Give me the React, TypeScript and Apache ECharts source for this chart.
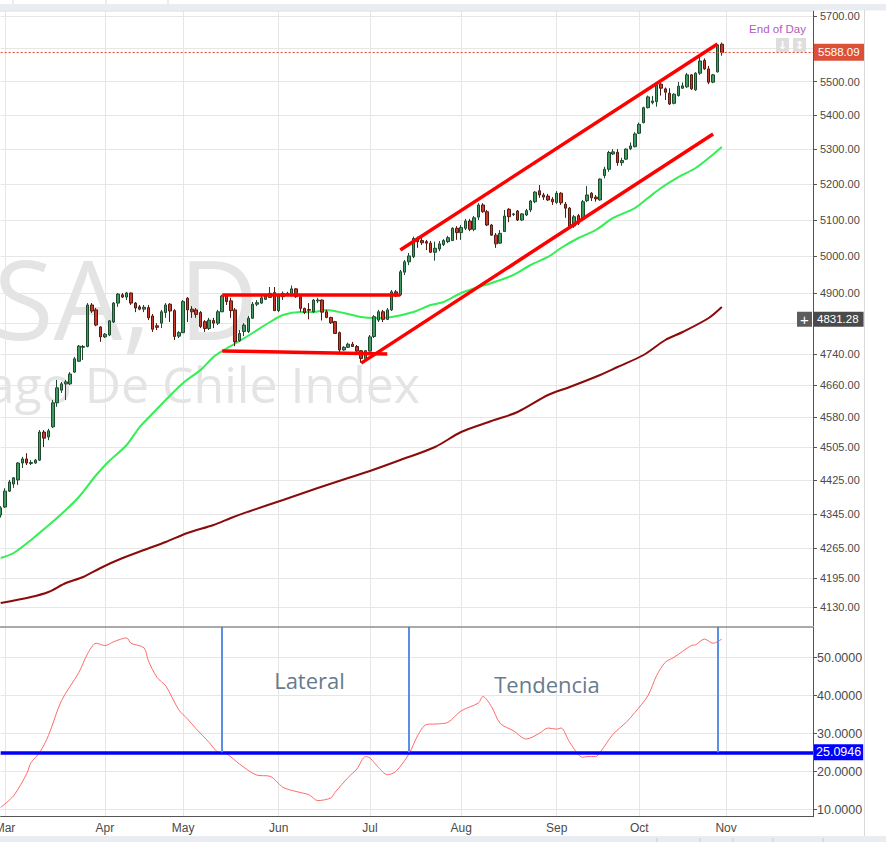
import React, { useEffect, useRef } from 'react';
import * as echarts from 'echarts';

// ---- calendar (Santiago exchange trading days, 2017) ----
const firstDay = '2017-02-28';
const dayCount = 188;
const holidays = ['2017-04-13', '2017-04-14', '2017-05-01', '2017-06-26', '2017-08-15', '2017-09-18', '2017-09-19', '2017-10-09', '2017-10-27', '2017-11-01'];
const monthNames = ['Jan', 'Feb', 'Mar', 'Apr', 'May', 'Jun', 'Jul', 'Aug', 'Sep', 'Oct', 'Nov', 'Dec'];

// ---- daily candles (index 0 = 2017-02-28) ----
const openP = [
  4342, 4361, 4399, 4416, 4426, 4467, 4477, 4466, 4467, 4474,
  4543, 4531, 4556, 4616, 4648, 4664, 4664, 4694, 4722, 4758,
  4760, 4869, 4856, 4811, 4785, 4790, 4824, 4874, 4896, 4890,
  4901, 4874, 4864, 4858, 4862, 4840, 4814, 4821, 4849, 4871,
  4854, 4787, 4796, 4887, 4858, 4856, 4849, 4825, 4807, 4828,
  4821, 4851, 4893, 4880, 4856, 4775, 4799, 4799, 4834, 4871,
  4874, 4884, 4889, 4902, 4854, 4891, 4900, 4896, 4912, 4891,
  4860, 4857, 4851, 4880, 4882, 4851, 4836, 4825, 4796, 4751,
  4758, 4766, 4760, 4749, 4729, 4748, 4786, 4829, 4851, 4831,
  4856, 4904, 4896, 4957, 4985, 4999, 5049, 5043, 5040, 5036,
  5011, 5020, 5032, 5040, 5043, 5077, 5065, 5077, 5097, 5074,
  5108, 5142, 5123, 5086, 5058, 5036, 5068, 5130, 5115, 5125,
  5100, 5114, 5128, 5151, 5182, 5170, 5167, 5158, 5149, 5175,
  5144, 5133, 5083, 5112, 5102, 5154, 5175, 5164, 5156, 5225,
  5243, 5287, 5292, 5262, 5272, 5302, 5308, 5347, 5378, 5422,
  5437, 5440, 5492, 5478, 5465, 5435, 5458, 5480, 5484, 5520,
  5475, 5525, 5564, 5538, 5498, 5529, 5613,
];
const closeP = [
  4359, 4399, 4421, 4431, 4467, 4477, 4467, 4468, 4474, 4543,
  4528, 4546, 4616, 4654, 4664, 4669, 4689, 4728, 4761, 4760,
  4869, 4853, 4816, 4785, 4792, 4827, 4874, 4898, 4890, 4901,
  4874, 4861, 4858, 4863, 4835, 4805, 4810, 4851, 4869, 4853,
  4786, 4796, 4878, 4856, 4851, 4844, 4812, 4807, 4829, 4821,
  4851, 4893, 4878, 4854, 4772, 4794, 4816, 4834, 4871, 4875,
  4888, 4893, 4900, 4854, 4893, 4900, 4896, 4912, 4891, 4860,
  4849, 4855, 4882, 4882, 4850, 4836, 4822, 4794, 4751, 4758,
  4766, 4760, 4748, 4729, 4749, 4785, 4838, 4851, 4831, 4856,
  4904, 4893, 4958, 4985, 5001, 5049, 5040, 5037, 5036, 5011,
  5022, 5034, 5043, 5051, 5077, 5065, 5079, 5097, 5074, 5106,
  5142, 5123, 5086, 5058, 5034, 5063, 5111, 5109, 5117, 5100,
  5117, 5126, 5153, 5178, 5170, 5164, 5156, 5151, 5175, 5148,
  5133, 5080, 5109, 5091, 5151, 5170, 5162, 5159, 5215, 5243,
  5291, 5293, 5262, 5268, 5301, 5310, 5345, 5373, 5422, 5454,
  5442, 5490, 5480, 5468, 5433, 5462, 5486, 5487, 5520, 5478,
  5525, 5562, 5538, 5498, 5520, 5611, 5588.09,
];
const lowP = [
  4336, 4359, 4397, 4407, 4414, 4455, 4462, 4462, 4465, 4472,
  4506, 4523, 4553, 4606, 4641, 4623, 4661, 4692, 4720, 4725,
  4758, 4848, 4813, 4772, 4782, 4787, 4821, 4864, 4888, 4882,
  4869, 4850, 4855, 4850, 4829, 4798, 4803, 4808, 4835, 4824,
  4777, 4782, 4795, 4824, 4835, 4835, 4808, 4798, 4803, 4808,
  4816, 4850, 4869, 4835, 4761, 4772, 4787, 4795, 4832, 4866,
  4872, 4882, 4888, 4853, 4850, 4882, 4893, 4891, 4888, 4851,
  4845, 4831, 4848, 4874, 4828, 4834, 4819, 4793, 4742, 4749,
  4756, 4759, 4745, 4718, 4725, 4747, 4782, 4824, 4824, 4829,
  4853, 4890, 4893, 4949, 4976, 4995, 5023, 5031, 5017, 5009,
  4988, 5014, 5028, 5036, 5042, 5045, 5045, 5072, 5069, 5069,
  5100, 5120, 5083, 5056, 5023, 5034, 5067, 5094, 5111, 5097,
  5097, 5111, 5122, 5147, 5162, 5156, 5153, 5142, 5145, 5142,
  5106, 5078, 5078, 5086, 5097, 5150, 5153, 5151, 5154, 5217,
  5236, 5284, 5253, 5253, 5270, 5298, 5306, 5345, 5376, 5420,
  5432, 5425, 5458, 5445, 5430, 5432, 5455, 5478, 5481, 5475,
  5472, 5520, 5535, 5492, 5495, 5527, 5578,
];
const highP = [
  4363, 4406, 4426, 4433, 4469, 4482, 4491, 4474, 4477, 4548,
  4548, 4551, 4623, 4674, 4669, 4674, 4694, 4733, 4764, 4764,
  4874, 4874, 4861, 4813, 4795, 4829, 4877, 4901, 4901, 4904,
  4902, 4877, 4869, 4869, 4869, 4845, 4821, 4856, 4874, 4874,
  4858, 4800, 4882, 4890, 4866, 4861, 4853, 4829, 4835, 4835,
  4856, 4896, 4896, 4888, 4861, 4803, 4821, 4840, 4877, 4882,
  4896, 4898, 4917, 4917, 4896, 4905, 4904, 4921, 4914, 4893,
  4862, 4874, 4885, 4888, 4884, 4856, 4838, 4827, 4799, 4761,
  4770, 4772, 4764, 4751, 4751, 4790, 4842, 4856, 4856, 4861,
  4909, 4909, 4963, 4990, 5009, 5054, 5054, 5050, 5045, 5042,
  5040, 5042, 5047, 5056, 5080, 5083, 5086, 5103, 5103, 5111,
  5147, 5147, 5128, 5089, 5064, 5072, 5128, 5133, 5119, 5128,
  5119, 5131, 5156, 5181, 5198, 5176, 5173, 5164, 5181, 5178,
  5150, 5136, 5114, 5117, 5156, 5195, 5178, 5170, 5217, 5250,
  5296, 5301, 5301, 5276, 5303, 5320, 5350, 5378, 5425, 5458,
  5457, 5495, 5495, 5482, 5480, 5465, 5499, 5497, 5526, 5522,
  5528, 5575, 5570, 5547, 5523, 5613, 5618,
];

// ---- moving averages (sampled: trading-day index, value) ----
const ma50Day = [0, 3, 7, 10, 14, 18, 22, 25, 29, 32, 34, 38, 42, 46, 49, 51, 55, 58, 62, 65, 69, 72, 75, 79, 83, 86, 90, 95, 99, 102, 106, 110, 113, 118, 122, 126, 129, 133, 137, 141, 146, 149, 152, 156, 160, 163, 166];
const ma50Value = [4241.5, 4253.1, 4283.3, 4309.0, 4344.5, 4385.0, 4437.9, 4471.9, 4511.1, 4555.5, 4578.0, 4623.1, 4666.2, 4699.4, 4733.0, 4748.3, 4774.3, 4795.2, 4824.0, 4842.5, 4850.4, 4850.4, 4855.7, 4847.7, 4837.2, 4834.6, 4837.2, 4850.4, 4868.9, 4877.0, 4901.0, 4917.0, 4927.7, 4949.3, 4976.3, 4998.1, 5022.7, 5050.1, 5072.2, 5105.6, 5133.4, 5161.5, 5189.7, 5220.9, 5246.6, 5275.2, 5307.0];
const ma200Day = [0, 7, 11, 15, 19, 23, 27, 33, 38, 43, 49, 53, 57, 65, 73, 80, 85, 92, 100, 106, 113, 119, 126, 131, 138, 142, 148, 153, 157, 163, 166];
const ma200Value = [4138.6, 4152.2, 4163.5, 4184.0, 4197.8, 4218.4, 4236.9, 4260.0, 4278.6, 4299.7, 4318.5, 4335.0, 4350.0, 4377.8, 4406.5, 4430.6, 4447.6, 4474.3, 4506.2, 4543.2, 4570.5, 4593.0, 4635.7, 4656.0, 4686.6, 4707.1, 4738.0, 4776.9, 4797.8, 4834.6, 4863.6];

// ---- ADX indicator (sampled) ----
const adxDay = [0, 3, 6, 7, 9, 11, 14, 18, 20, 22, 24, 26, 29, 30, 33, 34, 36, 38, 41, 43, 45, 48, 50, 52, 55, 59, 62, 65, 68, 71, 73, 76, 77, 80, 82, 84, 85, 87, 89, 91, 94, 96, 98, 101, 103, 106, 110, 111, 113, 115, 118, 121, 124, 126, 128, 129, 131, 134, 135, 137, 138, 141, 144, 146, 149, 151, 153, 155, 157, 159, 160, 162, 164, 166];
const adxValue = [10.6, 13.7, 19.5, 22.4, 25.1, 29.5, 38.7, 46.1, 51, 53.8, 53.2, 54.2, 55.2, 53.8, 52.6, 49.2, 44.8, 42.6, 36.3, 33.9, 31.3, 27.7, 25.1, 24.7, 22, 19.1, 18.8, 15.9, 14.8, 13.9, 12.4, 13.1, 14.6, 18.5, 20.7, 24, 23.6, 21.1, 19.2, 20.1, 24.7, 29.5, 32.4, 32.6, 33, 36, 38.1, 39.8, 37.1, 32.7, 30.8, 28.6, 30.1, 31.5, 31.2, 31.5, 27.7, 23.8, 24, 24, 25.1, 29.9, 33, 35.6, 40, 45.3, 48.8, 50.1, 51.7, 53.2, 53.4, 54.9, 53.8, 54.9];
const adxLevel = 25.0946;
const adxMarkerDays = [51, 94, 165];
const adxTicks = [10, 20, 30, 40, 50];

// ---- drawn trend lines ----
const trendStartDay = [51, 51, 83, 92];
const trendEndDay = [92, 89, 164, 165];
const trendStartValue = [4895.7, 4748.4, 4717.0, 5017.3];
const trendEndValue = [4895.7, 4740.6, 5344.9, 5613.6];

// ---- price axis ----
const priceTicks = [4130, 4195, 4265, 4345, 4425, 4505, 4580, 4660, 4740, 4820, 4900, 5000, 5100, 5200, 5300, 5400, 5500, 5600, 5700];
const hiddenTickLabels = [4820, 5600];
const crosshairPrice = 4831.28;

function buildTradingDays(start: string, count: number): string[] {
  const out: string[] = [];
  const d = new Date(start + 'T00:00:00Z');
  while (out.length < count) {
    const wd = d.getUTCDay();
    const s = d.toISOString().slice(0, 10);
    if (wd !== 0 && wd !== 6 && holidays.indexOf(s) < 0) out.push(s);
    d.setUTCDate(d.getUTCDate() + 1);
  }
  return out;
}

const categories = buildTradingDays(firstDay, dayCount);
const isMonthStart = (i: number) => i > 0 && categories[i].slice(5, 7) !== categories[i - 1].slice(5, 7);
const monthLabel = (v: string) => monthNames[parseInt(v.slice(5, 7), 10) - 1];

function buildOption() {
  const candles = openP.map((o, i) => [o, closeP[i], lowP[i], highP[i]]);
  const lastClose = closeP[closeP.length - 1];
  const gridLine = { color: '#e6e6e6', width: 1 };
  const axisColor = '#555555';
  const labelFont = 'Liberation Sans';

  const trendLines = trendStartDay.map((s, i) => [
    { coord: [categories[s], trendStartValue[i]], lineStyle: { color: '#ff0000', width: 3.5, type: 'solid' } },
    { coord: [categories[trendEndDay[i]], trendEndValue[i]] },
  ]);

  const adxVerticals = adxMarkerDays.map((d) => [
    { coord: [categories[d], 58], lineStyle: { color: '#5b8fe6', width: 2, type: 'solid' } },
    { coord: [categories[d], adxLevel] },
  ]);

  return {
    animation: false,
    backgroundColor: '#ffffff',
    grid: [
      { left: 0.65, right: 73, top: 11, height: 615, outerBoundsMode: 'none', containLabel: false },
      { left: 0.65, right: 73, top: 627.3, height: 189.4, outerBoundsMode: 'none', containLabel: false },
    ],
    xAxis: [
      {
        type: 'category', gridIndex: 0, data: categories, boundaryGap: false,
        axisLine: { show: false }, axisTick: { show: false }, axisLabel: { show: false },
        splitLine: { show: true, interval: (i: number) => isMonthStart(i), lineStyle: gridLine },
      },
      {
        type: 'category', gridIndex: 1, data: categories, boundaryGap: false,
        axisLine: { show: true, lineStyle: { color: axisColor } },
        axisTick: { show: false },
        axisLabel: {
          interval: (i: number) => isMonthStart(i), formatter: (v: string) => monthLabel(v),
          color: '#4a4a4a', fontSize: 12, fontFamily: labelFont, margin: 5, hideOverlap: false,
        },
        splitLine: { show: true, interval: (i: number) => isMonthStart(i), lineStyle: gridLine },
      },
    ],
    yAxis: [
      {
        type: 'log', gridIndex: 0, position: 'right', min: 4087.1, max: 5715.6,
        axisLine: { show: true, lineStyle: { color: axisColor } },
        axisTick: { show: true, length: 4, customValues: priceTicks, lineStyle: { color: axisColor } },
        axisLabel: {
          customValues: priceTicks, margin: 7, color: '#4a4a4a', fontSize: 11, fontFamily: labelFont,
          formatter: (v: number) => (hiddenTickLabels.some((h) => Math.abs(h - v) < 0.5) ? '' : Number(v).toFixed(2)),
        },
        splitLine: { show: true, lineStyle: gridLine },
      },
      {
        type: 'value', gridIndex: 1, position: 'right', min: 8.16, max: 58,
        axisLine: { show: true, lineStyle: { color: axisColor } },
        axisTick: { show: true, length: 4, customValues: adxTicks, lineStyle: { color: axisColor } },
        axisLabel: {
          customValues: adxTicks, margin: 4, color: '#4a4a4a', fontSize: 12.5, fontFamily: labelFont,
          formatter: (v: number) => Number(v).toFixed(4),
        },
        splitLine: { show: true, lineStyle: gridLine },
      },
    ],
    series: [
      {
        type: 'line', name: 'MA200', xAxisIndex: 0, yAxisIndex: 0,
        data: ma200Day.map((d, i) => [d, ma200Value[i]]),
        showSymbol: false, smooth: 0.3, lineStyle: { color: '#8b0a0a', width: 2 }, z: 3,
      },
      {
        type: 'line', name: 'MA50', xAxisIndex: 0, yAxisIndex: 0,
        data: ma50Day.map((d, i) => [d, ma50Value[i]]),
        showSymbol: false, smooth: 0.3, lineStyle: { color: '#33ee55', width: 2 }, z: 3,
      },
      {
        type: 'candlestick', name: 'IPSA', xAxisIndex: 0, yAxisIndex: 0,
        data: candles, barWidth: 3, z: 4,
        itemStyle: { color: '#3f9a62', color0: '#c8392b', borderColor: '#1d4a2d', borderColor0: '#541a10', borderWidth: 1 },
        markLine: {
          silent: true, symbol: ['none', 'none'], animation: false,
          label: { show: false },
          data: [
            {
              yAxis: lastClose,
              lineStyle: { color: '#e8452c', width: 1, type: [2, 2] },
              label: {
                show: true, position: 'end', distance: 1, formatter: lastClose.toFixed(2),
                backgroundColor: '#dc5038', color: '#ffffff', fontSize: 11.5, fontFamily: labelFont,
                padding: [3, 5, 2, 4],
              },
            },
            {
              yAxis: crosshairPrice,
              lineStyle: { color: 'rgba(0,0,0,0)', width: 1, type: 'solid' },
              label: {
                show: true, position: 'end', distance: 1, offset: [-17, 0],
                formatter: '{p|+}{g|}{v|' + crosshairPrice.toFixed(2) + '}',
                rich: {
                  p: { backgroundColor: '#5c5c5c', color: '#ffffff', width: 15, height: 15, lineHeight: 15, align: 'center', fontSize: 15, fontFamily: labelFont },
                  g: { width: 1, height: 15 },
                  v: { backgroundColor: '#4a4a4a', color: '#ffffff', height: 15, lineHeight: 15, padding: [0, 5, 0, 4], fontSize: 11.5, fontFamily: labelFont },
                },
              },
            },
            ...trendLines,
          ],
        },
      },
      {
        type: 'line', name: 'ADX', xAxisIndex: 1, yAxisIndex: 1,
        data: adxDay.map((d, i) => [d, adxValue[i]]),
        showSymbol: false, smooth: 0.3, lineStyle: { color: '#ff6b6b', width: 1 },
        markLine: {
          silent: true, symbol: ['none', 'none'], animation: false,
          label: { show: false },
          data: [
            {
              yAxis: adxLevel,
              lineStyle: { color: '#0000ff', width: 3.5, type: 'solid' },
              label: {
                show: true, position: 'end', distance: 1, formatter: adxLevel.toFixed(4),
                backgroundColor: '#0000ff', color: '#ffffff', fontSize: 12.5, fontFamily: labelFont,
                padding: [2, 2, 1, 2],
              },
            },
            ...adxVerticals,
          ],
        },
      },
    ],
    graphic: [
      // top toolbar edge
      { type: 'rect', shape: { x: 0, y: 0, width: 886, height: 4 }, style: { fill: '#ffffff' }, z: 10 },
      { type: 'rect', shape: { x: 0, y: 4, width: 886, height: 6.5 }, style: { fill: '#e9ecf0' }, z: 10 },
      { type: 'line', shape: { x1: 13, y1: 0, x2: 13, y2: 4 }, style: { stroke: '#d5d9de', lineWidth: 1 }, z: 10 },
      { type: 'line', shape: { x1: 106, y1: 0, x2: 106, y2: 4 }, style: { stroke: '#d5d9de', lineWidth: 1 }, z: 10 },
      { type: 'line', shape: { x1: 168, y1: 0, x2: 168, y2: 4 }, style: { stroke: '#d5d9de', lineWidth: 1 }, z: 10 },
      { type: 'line', shape: { x1: 0, y1: 11, x2: 813, y2: 11 }, style: { stroke: '#d9d9d9', lineWidth: 1 }, z: 10 },
      // bottom toolbar edge
      { type: 'rect', shape: { x: 0, y: 836, width: 886, height: 6 }, style: { fill: '#e9ecf0' }, z: 10 },
      ...[657, 700, 733, 773, 823].map((x) => ({ type: 'line', shape: { x1: x, y1: 838, x2: x, y2: 842 }, style: { stroke: '#c9cdd2', lineWidth: 1 }, z: 10 })),
      // pane separators
      { type: 'line', shape: { x1: 0, y1: 627, x2: 813, y2: 627 }, style: { stroke: '#555555', lineWidth: 1 }, z: 10 },
      { type: 'line', shape: { x1: 864.5, y1: 10, x2: 864.5, y2: 836 }, style: { stroke: '#d9d9d9', lineWidth: 1 }, z: 10 },
      // watermark
      { type: 'text', x: 258, y: 297, z: 0, silent: true, style: { text: 'IPSA, D', fill: '#e4e4e4', font: '109px "Open Sans"', align: 'right', verticalAlign: 'middle' } },
      { type: 'text', x: 420, y: 384, z: 0, silent: true, style: { text: 'Santiago De Chile Index', fill: '#e4e4e4', font: '50px "Open Sans"', align: 'right', verticalAlign: 'middle' } },
      // annotations
      { type: 'text', x: 309.5, y: 680, z: 10, style: { text: 'Lateral', fill: '#677b8f', font: '22px "Open Sans"', align: 'center', verticalAlign: 'middle' } },
      { type: 'text', x: 547, y: 684, z: 10, style: { text: 'Tendencia', fill: '#677b8f', font: '22px "Open Sans"', align: 'center', verticalAlign: 'middle' } },
      // end of day badge
      { type: 'text', x: 806, y: 29, z: 10, style: { text: 'End of Day', fill: '#ad5cc0', font: '11.5px "Liberation Sans"', align: 'right', verticalAlign: 'middle' } },
      { type: 'rect', shape: { x: 776, y: 38, width: 13, height: 14 }, style: { fill: '#dedede' }, z: 10 },
      { type: 'rect', shape: { x: 793, y: 38, width: 13, height: 14 }, style: { fill: '#dedede' }, z: 10 },
      { type: 'text', x: 782.5, y: 45, z: 11, style: { text: '↓', fill: '#ffffff', font: 'bold 11px "DejaVu Sans"', align: 'center', verticalAlign: 'middle' } },
      { type: 'text', x: 799.5, y: 45, z: 11, style: { text: '↕', fill: '#ffffff', font: 'bold 11px "DejaVu Sans"', align: 'center', verticalAlign: 'middle' } },
    ],
  };
}

export default function App() {
  const ref = useRef<HTMLDivElement>(null);
  useEffect(() => {
    if (!ref.current) return;
    const chart = echarts.init(ref.current, null, { renderer: 'svg' });
    chart.setOption(buildOption() as any);
    return () => chart.dispose();
  }, []);
  return <div ref={ref} style={{ position: 'fixed', left: 0, top: 0, width: 886, height: 842, background: '#ffffff' }} />;
}
